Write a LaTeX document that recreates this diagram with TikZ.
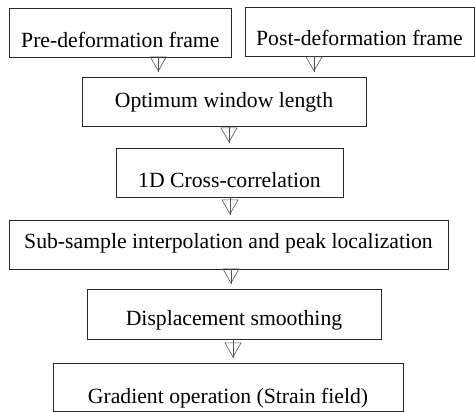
\documentclass[tikz,border=0pt]{standalone}
\usepackage{fontspec}
\setmainfont{Liberation Serif}
\usepackage{tikz}
\usetikzlibrary{arrows.meta,positioning,calc}
\definecolor{boxline}{RGB}{40,40,40}
\definecolor{flowline}{RGB}{80,80,80}

\begin{document}
\begin{tikzpicture}[x=1pt,y=-1pt, every node/.style={font=\fontsize{21.7}{26}\selectfont}]
\tikzset{stage/.style={draw=boxline,line width=0.9pt,inner sep=1pt,text depth=0pt},
  textdrop/.style={text height=#1},
  flow/.style={draw=flowline,line width=0.6pt,shorten >=5pt,
    arrows={-Triangle[open,length=15pt,width=17pt]},postaction={draw,arrows=-}}}
\useasboundingbox (0,0) rectangle (475,412);

\node[stage,textdrop=31pt,minimum width=221.5pt,minimum height=49pt] (pre)    at (120.3,32.5) {Pre-deformation frame};
\node[stage,textdrop=29pt,minimum width=229pt,minimum height=49pt]   (post)   at (359.5,31.5) {Post-deformation frame};
\node[stage,textdrop=13pt,minimum width=284pt,minimum height=49pt]   (win)    at (224,101.5)  {Optimum window length};
\node[stage,textdrop=31pt,minimum width=227pt,minimum height=49pt]   (xcorr)  at (229.5,172.5){1D Cross-correlation};
\node[stage,textdrop=8pt,minimum width=439pt,minimum height=49pt]    (sub)    at (228.5,244.5){Sub-sample interpolation and peak localization};
\node[stage,textdrop=22pt,minimum width=294pt,minimum height=50pt]   (smooth) at (234,314)    {Displacement smoothing};
\node[stage,textdrop=32pt,minimum width=350pt,minimum height=48pt]   (grad)   at (228,387)    {Gradient operation (Strain field)};

\draw[flow] ([xshift=38pt]pre.south) -- ([xshift=38pt]pre.south |- win.north);
\draw[flow] ([xshift=-45.5pt]post.south) -- ([xshift=-45.5pt]post.south |- win.north);
\draw[flow] ([xshift=5pt]win.south) -- ([xshift=5pt]win.south |- xcorr.north);
\draw[flow] ([xshift=0.5pt]xcorr.south) -- ([xshift=0.5pt]xcorr.south |- sub.north);
\draw[flow] ([xshift=2.5pt]sub.south) -- ([xshift=2.5pt]sub.south |- smooth.north);
\draw[flow] ([xshift=-1pt]smooth.south) -- ([xshift=-1pt]smooth.south |- grad.north);
\end{tikzpicture}
\end{document}
